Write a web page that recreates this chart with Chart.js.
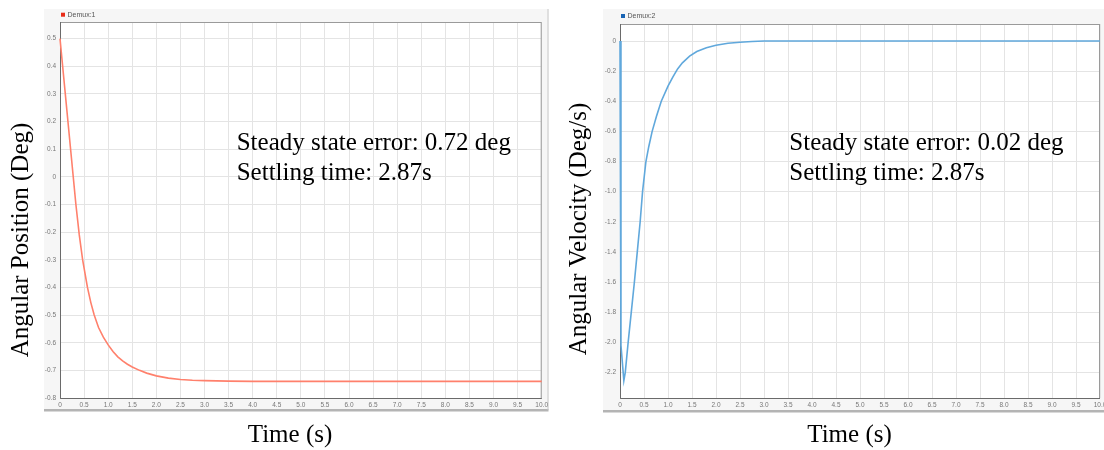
<!DOCTYPE html>
<html><head><meta charset="utf-8">
<script src="https://cdn.jsdelivr.net/npm/chart.js@4.4.1/dist/chart.umd.min.js"></script>
<style>
html,body{margin:0;padding:0;background:#fff;width:1104px;height:450px;overflow:hidden;}
canvas{position:absolute;top:0;}
#c1{left:0;} #c2{left:560px;}
</style></head><body>
<canvas id="c1" width="560" height="450"></canvas>
<canvas id="c2" width="544" height="450"></canvas>
<script>
// ---- data ----
const posTime   = [0, 0.33, 0.4, 0.47, 0.57, 0.64, 0.71, 0.8, 0.9, 1.0, 1.1, 1.2, 1.3, 1.4, 1.5, 1.65, 1.8, 2.0, 2.25, 2.5, 2.75, 3.0, 3.5, 4, 5, 6, 7, 8, 9, 10];
const posValues = [0.5, -0.1, -0.21, -0.3, -0.4, -0.455, -0.5, -0.545, -0.58, -0.608, -0.632, -0.651, -0.666, -0.678, -0.688, -0.7, -0.71, -0.72, -0.728, -0.733, -0.736, -0.737, -0.739, -0.74, -0.74, -0.74, -0.74, -0.74, -0.74, -0.74];
const velTime   = [0, 0.02, 0.08, 0.11, 0.17, 0.235, 0.3, 0.36, 0.42, 0.47, 0.54, 0.6, 0.67, 0.76, 0.86, 1.0, 1.1, 1.2, 1.3, 1.45, 1.6, 1.8, 2.0, 2.25, 2.5, 2.75, 3.0, 3.5, 4, 5, 6, 7, 8, 9, 10];
const velValues = [0, -2.02, -2.255, -2.2, -2.0, -1.8, -1.6, -1.4, -1.2, -1.0, -0.8, -0.7, -0.6, -0.5, -0.4, -0.3, -0.24, -0.185, -0.145, -0.1, -0.07, -0.045, -0.028, -0.015, -0.008, -0.003, 0, 0, 0, 0, 0, 0, 0, 0, 0];
const timeRange = [0, 10];
const timeStep = 0.5;
const posRange = [-0.8, 0.56];
const posStep = 0.1;
const velRange = [-2.37, 0.113];
const velStep = 0.2;
const seriesNames = ['Demux:1', 'Demux:2'];
const xTitle = 'Time (s)';
const yTitles = ['Angular Position (Deg)', 'Angular Velocity (Deg/s)'];
const notes = [
  ['Steady state error: 0.72 deg', 'Settling time: 2.87s'],
  ['Steady state error: 0.02 deg', 'Settling time: 2.87s']
];

const SERIF = "'Liberation Serif','Times New Roman',serif";
const SANS = "'Liberation Sans',Arial,sans-serif";
const fmt = v => Math.abs(v) < 1e-9 ? '0' : Number(v).toFixed(1);

function decorPlugin(cfg) {
  return {
    id: 'decor',
    beforeDraw(chart) {
      const ctx = chart.ctx, a = chart.chartArea;
      ctx.save();
      ctx.fillStyle = '#f6f6f6';
      ctx.fillRect(cfg.panel[0], cfg.panel[1], cfg.panel[2] - cfg.panel[0], cfg.panel[3] - cfg.panel[1]);
      ctx.fillStyle = '#b4b4b4';
      ctx.fillRect(cfg.panel[0], cfg.panel[3] - 1, cfg.panel[2] - cfg.panel[0], 2.5);
      if (cfg.rightBorder) {
        ctx.fillStyle = '#c8c8c8';
        ctx.fillRect(cfg.panel[2] - 1, cfg.panel[1], 1, cfg.panel[3] - cfg.panel[1]);
      }
      ctx.fillStyle = '#ffffff';
      ctx.fillRect(a.left, a.top, a.right - a.left, a.bottom - a.top);
      ctx.restore();
    },
    beforeDatasetsDraw(chart) {
      const ctx = chart.ctx, a = chart.chartArea;
      ctx.save();
      ctx.lineWidth = 1;
      ctx.strokeStyle = '#9a9a9a';
      ctx.strokeRect(a.left + 0.5, a.top + 0.5, a.right - a.left - 1, a.bottom - a.top);
      ctx.strokeStyle = '#6a6a6a';
      ctx.beginPath();
      ctx.moveTo(a.left + 0.5, a.top); ctx.lineTo(a.left + 0.5, a.bottom + 0.5);
      ctx.lineTo(a.right, a.bottom + 0.5);
      ctx.stroke();
      ctx.restore();
    },
    afterDraw(chart) {
      const ctx = chart.ctx;
      ctx.save();
      // legend
      ctx.fillStyle = cfg.legendColor;
      ctx.fillRect(cfg.legend[0], cfg.legend[1] - 2, 4, 4);
      ctx.fillStyle = '#555';
      ctx.font = '7px ' + SANS;
      ctx.textBaseline = 'middle';
      ctx.textAlign = 'left';
      ctx.fillText(cfg.legendText, cfg.legend[0] + 6.5, cfg.legend[1]);
      // annotations
      ctx.fillStyle = '#000';
      ctx.font = '25px ' + SERIF;
      ctx.textBaseline = 'alphabetic';
      ctx.fillText(cfg.notes[0], cfg.noteX, 150);
      ctx.fillText(cfg.notes[1], cfg.noteX, 180);
      // x title
      ctx.textAlign = 'center';
      ctx.fillText(xTitle, cfg.xTitleX, 441.7);
      // y title
      ctx.translate(cfg.yTitle[0], cfg.yTitle[1]);
      ctx.rotate(-Math.PI / 2);
      ctx.fillText(cfg.yTitleText, 0, 0);
      ctx.restore();
    }
  };
}

function makeChart(id, times, values, yr, ystep, color, padRight, padTop, cfg) {
  const pts = times.map((t, i) => ({x: t, y: values[i]}));
  return new Chart(document.getElementById(id), {
    type: 'line',
    data: { datasets: [{ label: cfg.legendText, data: pts, borderColor: color, borderWidth: 1.6,
      pointRadius: 0, tension: 0, fill: false, clip: 2 }] },
    options: {
      responsive: false, animation: false, devicePixelRatio: 1,
      layout: { padding: { left: 0, right: padRight, top: padTop, bottom: 0 } },
      plugins: { legend: { display: false }, tooltip: { enabled: false } },
      scales: {
        x: { type: 'linear', min: timeRange[0], max: timeRange[1],
          ticks: { stepSize: timeStep, callback: fmt, color: '#777', font: { size: 6.5, family: SANS },
            padding: 3, maxRotation: 0, autoSkip: false, includeBounds: false },
          grid: { color: '#e4e4e4', drawTicks: false }, border: { display: false },
          afterFit: s => { s.height = 52; s.paddingLeft = 0; s.paddingRight = 0; } },
        y: { type: 'linear', min: yr[0], max: yr[1],
          ticks: { stepSize: ystep, callback: fmt, color: '#777', font: { size: 6.5, family: SANS },
            padding: 4, autoSkip: false, includeBounds: false },
          grid: { color: '#e4e4e4', drawTicks: false }, border: { display: false },
          afterFit: s => { s.width = 60; s.paddingTop = 0; s.paddingBottom = 0; } }
      }
    },
    plugins: [decorPlugin(cfg)]
  });
}

makeChart('c1', posTime, posValues, posRange, posStep, 'rgb(255,128,108)', 18.3, 22, {
  panel: [44, 9, 548.5, 410], rightBorder: true,
  legend: [61, 14.7], legendColor: 'rgb(232,44,24)', legendText: seriesNames[0],
  notes: notes[0], noteX: 236.7, xTitleX: 290, yTitle: [28.3, 240], yTitleText: yTitles[0]
});
makeChart('c2', velTime, velValues, velRange, velStep, 'rgb(96,168,220)', 4, 24, {
  panel: [43, 9, 544, 411], rightBorder: false,
  legend: [61, 16], legendColor: 'rgb(24,100,180)', legendText: seriesNames[1],
  notes: notes[1], noteX: 229.3, xTitleX: 289.5, yTitle: [26, 229], yTitleText: yTitles[1]
});
</script>
</body></html>
